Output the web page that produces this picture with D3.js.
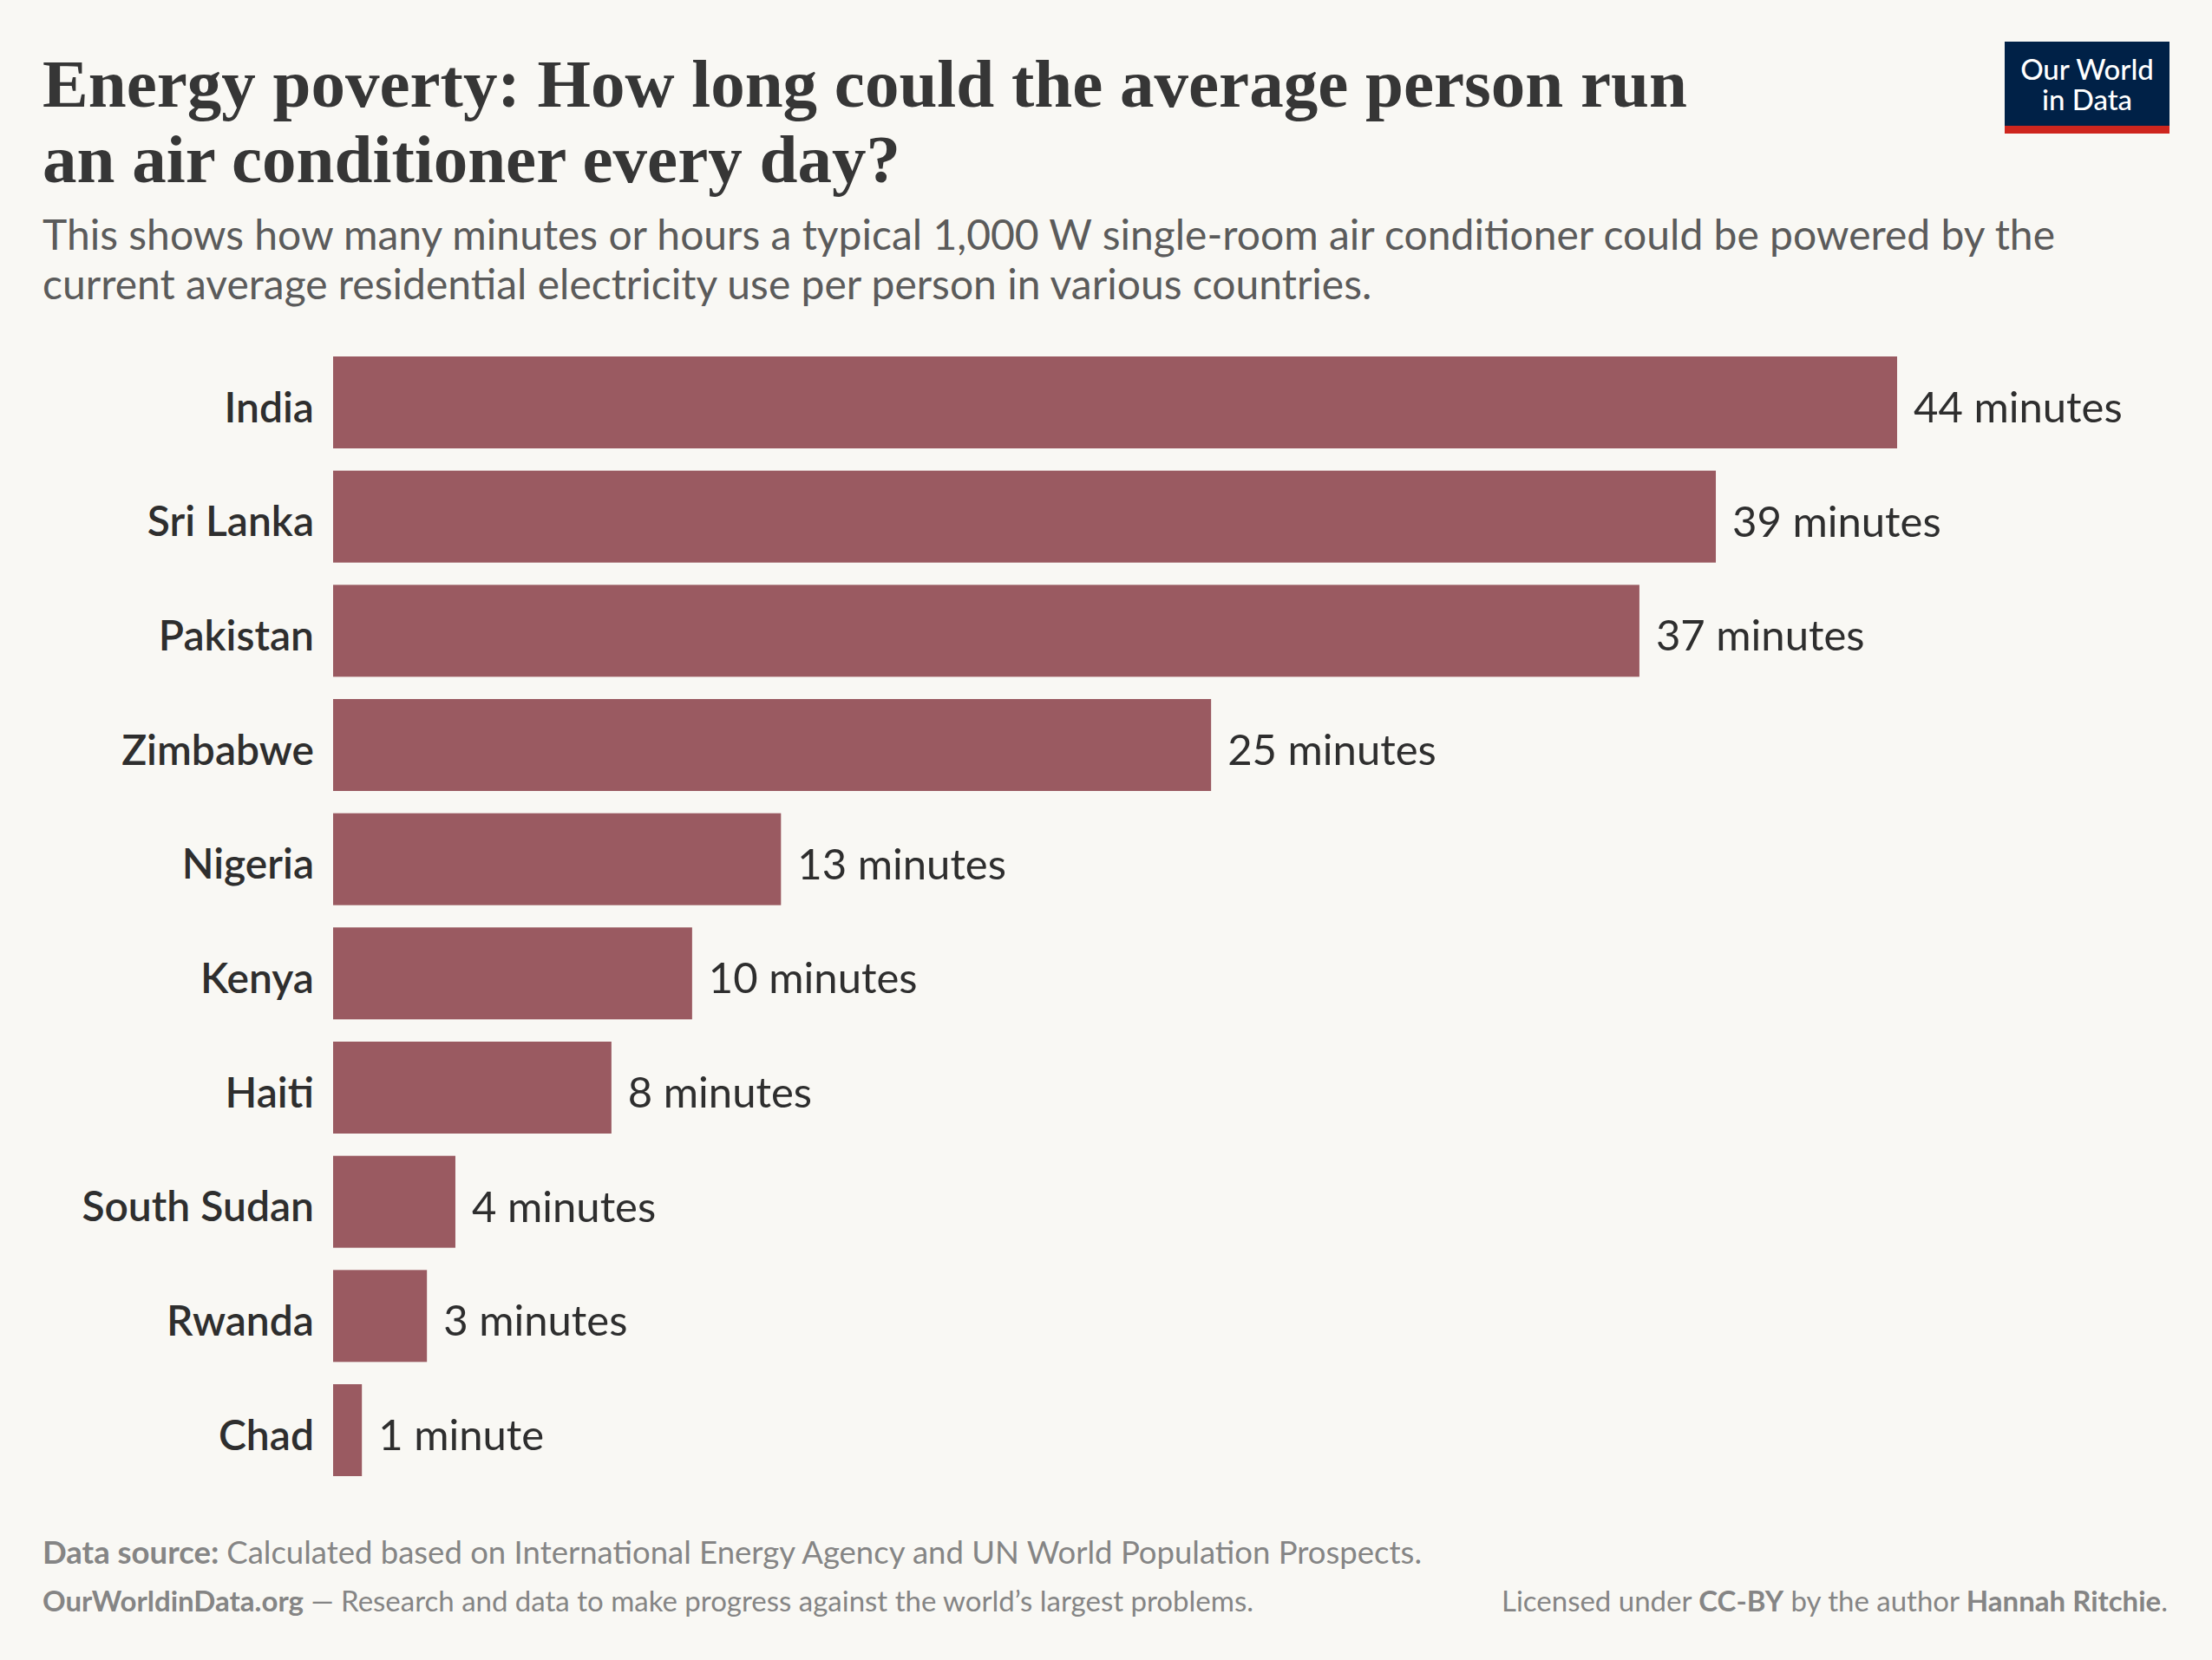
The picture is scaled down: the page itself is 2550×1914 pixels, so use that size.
<!DOCTYPE html>
<html>
<head>
<meta charset="utf-8">
<script src="https://cdn.jsdelivr.net/npm/d3@7/dist/d3.min.js"></script>
<style>
  html, body { margin: 0; padding: 0; background: #f9f8f4; }
  svg { display: block; }
</style>
</head>
<body>
<div id="chart"></div>
<script>
// data
var countries = ["India", "Sri Lanka", "Pakistan", "Zimbabwe", "Nigeria",
                 "Kenya", "Haiti", "South Sudan", "Rwanda", "Chad"];
var minutes = [44, 38.9, 36.75, 24.7, 12.6, 10.1, 7.83, 3.44, 2.64, 0.81];
var valueLabels = ["44 minutes", "39 minutes", "37 minutes", "25 minutes", "13 minutes",
                   "10 minutes", "8 minutes", "4 minutes", "3 minutes", "1 minute"];

var titleLines = ["Energy poverty: How long could the average person run",
                  "an air conditioner every day?"];
var subtitleLines = ["This shows how many minutes or hours a typical 1,000 W single-room air conditioner could be powered by the",
                     "current average residential electricity use per person in various countries."];

var width = 2550, height = 1914;
var barColor = "#9a5a61";

var svg = d3.select("#chart").append("svg")
    .attr("width", width)
    .attr("height", height);

svg.append("rect")
    .attr("width", width)
    .attr("height", height)
    .attr("fill", "#f9f8f4");

// header
svg.selectAll(".title")
    .data(titleLines)
  .enter().append("text")
    .attr("class", "title")
    .attr("x", 49)
    .attr("y", function(d, i) { return 123 + i * 87; })
    .style("font-family", "'Liberation Serif', 'DejaVu Serif', serif")
    .style("font-weight", 700)
    .style("font-size", "79px")
    .style("fill", "#363636")
    .text(function(d) { return d; });

svg.selectAll(".subtitle")
    .data(subtitleLines)
  .enter().append("text")
    .attr("class", "subtitle")
    .attr("x", 49)
    .attr("y", function(d, i) { return 288 + i * 57; })
    .style("font-family", "Lato, sans-serif")
    .style("font-size", "48px")
    .style("fill", "#5b5b5b")
    .text(function(d) { return d; });

// logo
var logo = svg.append("g");
logo.append("rect")
    .attr("x", 2311).attr("y", 48)
    .attr("width", 190).attr("height", 106)
    .attr("fill", "#002147");
logo.append("rect")
    .attr("x", 2311).attr("y", 145)
    .attr("width", 190).attr("height", 9)
    .attr("fill", "#ce261e");
logo.selectAll("text")
    .data(["Our World", "in Data"])
  .enter().append("text")
    .attr("x", 2406)
    .attr("y", function(d, i) { return 92 + i * 35; })
    .attr("text-anchor", "middle")
    .style("font-family", "Lato, sans-serif")
    .style("font-weight", 500)
    .style("font-size", "33px")
    .style("fill", "#fff")
    .text(function(d) { return d; });

// bars
var x = d3.scaleLinear()
    .domain([0, 44])
    .range([384, 2187]);

var y = d3.scaleBand()
    .domain(countries)
    .range([411, 1702])
    .paddingInner(0.195)
    .paddingOuter(0);

var rows = svg.selectAll(".row")
    .data(countries)
  .enter().append("g")
    .attr("class", "row");

rows.append("rect")
    .attr("x", x(0))
    .attr("y", function(d) { return y(d); })
    .attr("width", function(d, i) { return x(minutes[i]) - x(0); })
    .attr("height", y.bandwidth())
    .attr("fill", barColor);

rows.append("text")
    .attr("x", x(0) - 22)
    .attr("y", function(d) { return y(d) + y.bandwidth() / 2; })
    .attr("dy", "0.47em")
    .attr("text-anchor", "end")
    .style("font-family", "Lato, sans-serif")
    .style("font-weight", 600)
    .style("font-size", "48px")
    .style("fill", "#2e2e2e")
    .text(function(d) { return d; });

rows.append("text")
    .attr("x", function(d, i) { return x(minutes[i]) + 19; })
    .attr("y", function(d) { return y(d) + y.bandwidth() / 2; })
    .attr("dy", "0.47em")
    .style("font-family", "Lato, sans-serif")
    .style("font-size", "49px")
    .style("fill", "#2e2e2e")
    .text(function(d, i) { return valueLabels[i]; });

// footer
var foot = svg.append("g")
    .style("font-family", "Lato, sans-serif")
    .style("fill", "#858585");

var src = foot.append("text").attr("x", 49).attr("y", 1803)
    .style("font-size", "36.5px");
src.append("tspan").style("font-weight", 700).text("Data source: ");
src.append("tspan").text("Calculated based on International Energy Agency and UN World Population Prospects.");

var site = foot.append("text").attr("x", 49).attr("y", 1858)
    .style("font-size", "33px");
site.append("tspan").style("font-weight", 700).text("OurWorldinData.org");
site.append("tspan").text(" \u2014 Research and data to make progress against the world\u2019s largest problems.");

var lic = foot.append("text").attr("x", 2499).attr("y", 1858)
    .attr("text-anchor", "end")
    .style("font-size", "33px");
lic.append("tspan").text("Licensed under ");
lic.append("tspan").style("font-weight", 700).text("CC-BY");
lic.append("tspan").text(" by the author ");
lic.append("tspan").style("font-weight", 700).text("Hannah Ritchie");
lic.append("tspan").text(".");
</script>
</body>
</html>
